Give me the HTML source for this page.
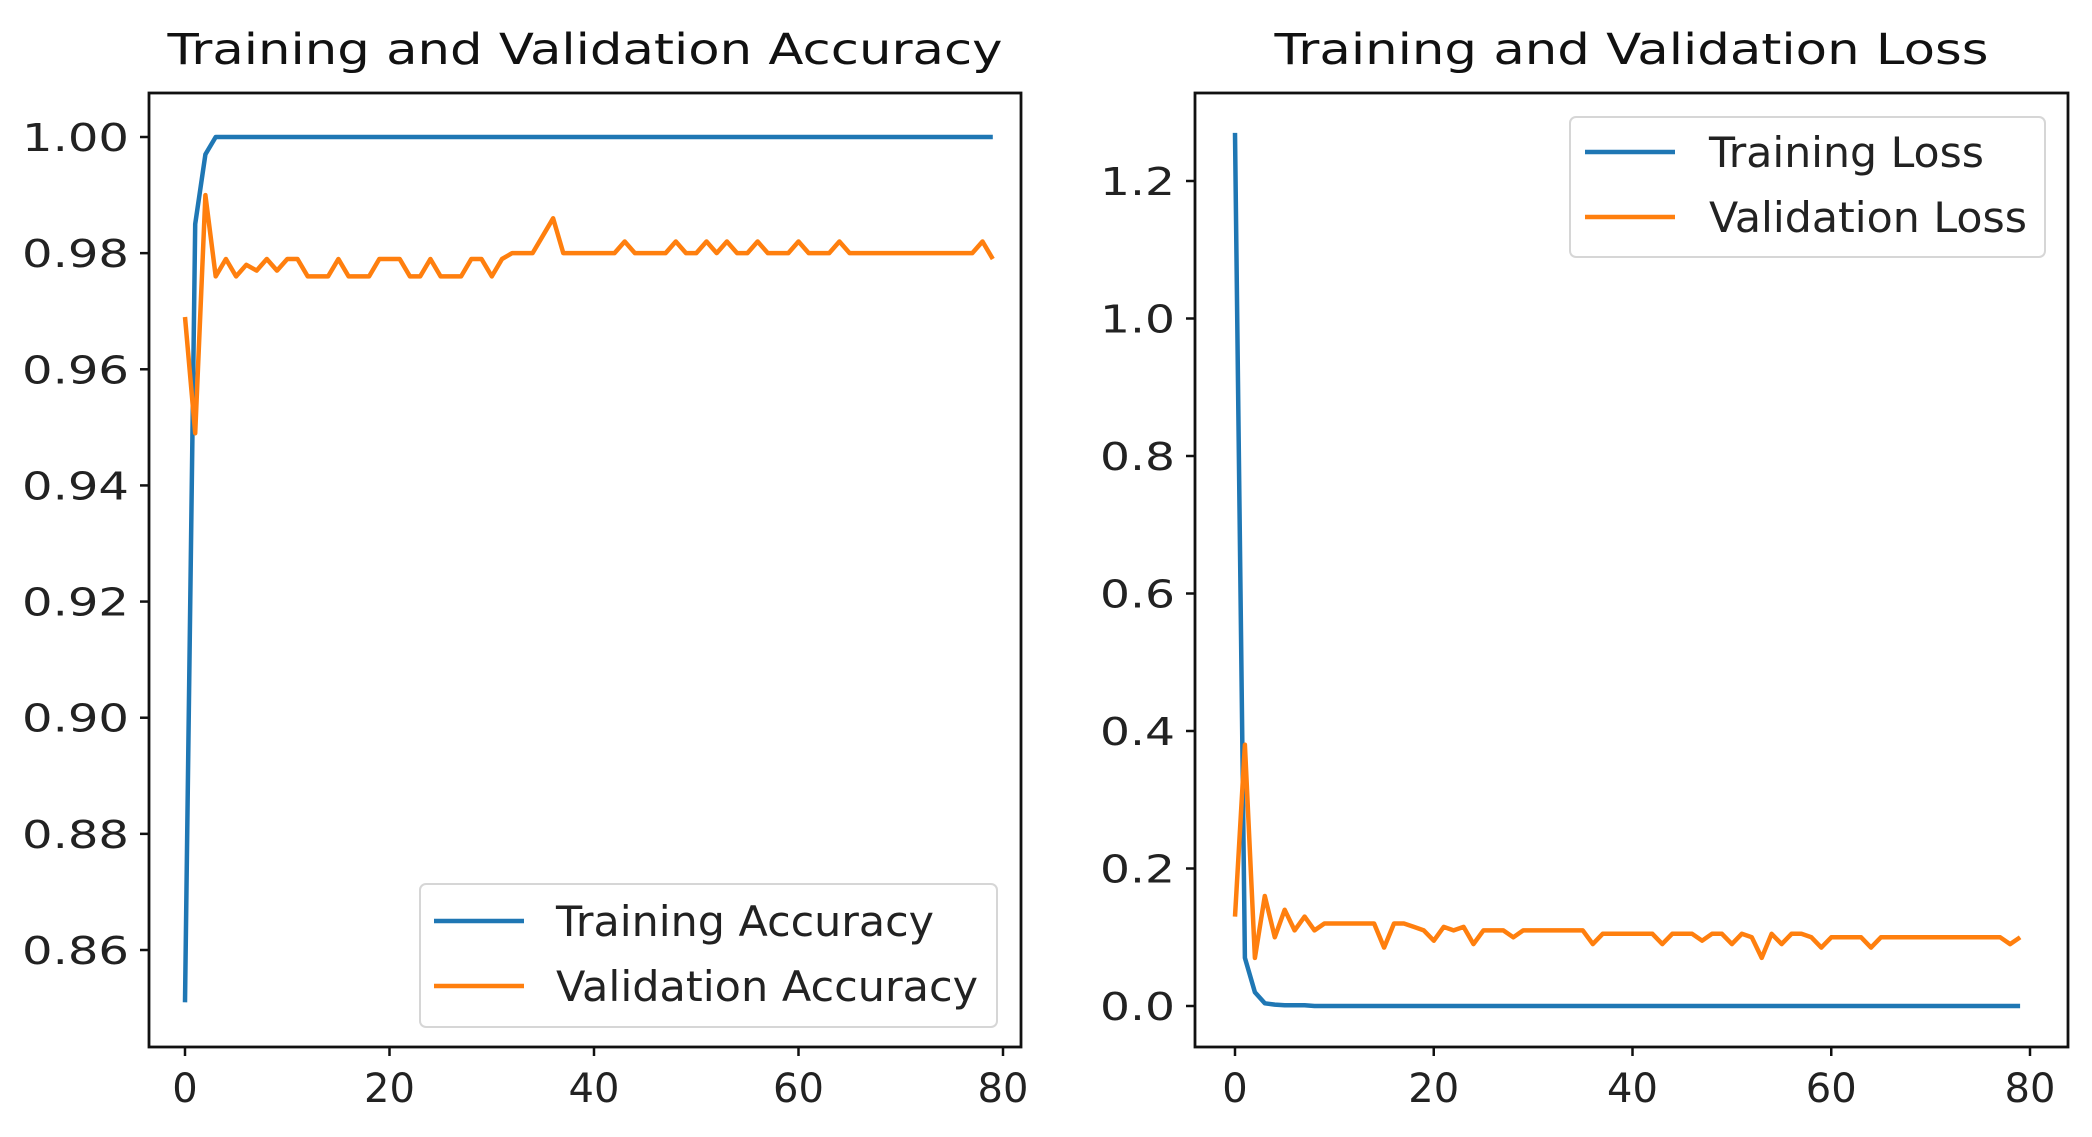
<!DOCTYPE html>
<html><head><meta charset="utf-8"><style>
html,body{margin:0;padding:0;background:#fff;}
svg{display:block;font-family:"DejaVu Sans","Liberation Sans",sans-serif;}
</style></head><body>
<svg id="fig" width="2092" height="1137" viewBox="0 0 2092 1137" xmlns="http://www.w3.org/2000/svg"></svg>
<script>
const epochs = Array.from({length:80},(_,i)=>i);
const trainAcc = [0.851,0.985,0.997,1,1,1,1,1,1,1,1,1,1,1,1,1,1,1,1,1,1,1,1,1,1,1,1,1,1,1,1,1,1,1,1,1,1,1,1,1,1,1,1,1,1,1,1,1,1,1,1,1,1,1,1,1,1,1,1,1,1,1,1,1,1,1,1,1,1,1,1,1,1,1,1,1,1,1,1,1];
const valAcc = [0.969,0.949,0.990,0.976,0.979,0.976,0.978,0.977,0.979,0.977,0.979,0.979,0.976,0.976,0.976,0.979,0.976,0.976,0.976,0.979,0.979,0.979,0.976,0.976,0.979,0.976,0.976,0.976,0.979,0.979,0.976,0.979,0.980,0.980,0.980,0.983,0.986,0.980,0.980,0.980,0.980,0.980,0.980,0.982,0.980,0.980,0.980,0.980,0.982,0.980,0.980,0.982,0.980,0.982,0.980,0.980,0.982,0.980,0.980,0.980,0.982,0.980,0.980,0.980,0.982,0.980,0.980,0.980,0.980,0.980,0.980,0.980,0.980,0.980,0.980,0.980,0.980,0.980,0.982,0.979];
const trainLoss = [1.27,0.07,0.02,0.004,0.002,0.001,0.001,0.001,0,0,0,0,0,0,0,0,0,0,0,0,0,0,0,0,0,0,0,0,0,0,0,0,0,0,0,0,0,0,0,0,0,0,0,0,0,0,0,0,0,0,0,0,0,0,0,0,0,0,0,0,0,0,0,0,0,0,0,0,0,0,0,0,0,0,0,0,0,0,0,0];
const valLoss = [0.13,0.38,0.07,0.16,0.10,0.14,0.11,0.13,0.11,0.12,0.12,0.12,0.12,0.12,0.12,0.085,0.12,0.12,0.115,0.11,0.095,0.115,0.11,0.115,0.09,0.11,0.11,0.11,0.10,0.11,0.11,0.11,0.11,0.11,0.11,0.11,0.09,0.105,0.105,0.105,0.105,0.105,0.105,0.09,0.105,0.105,0.105,0.095,0.105,0.105,0.09,0.105,0.10,0.07,0.105,0.09,0.105,0.105,0.10,0.085,0.10,0.10,0.10,0.10,0.085,0.10,0.10,0.10,0.10,0.10,0.10,0.10,0.10,0.10,0.10,0.10,0.10,0.10,0.09,0.10];
const accTicks = ["0.86","0.88","0.90","0.92","0.94","0.96","0.98","1.00"];
const lossTicks = ["0.0","0.2","0.4","0.6","0.8","1.0","1.2"];
const xTicks = ["0","20","40","60","80"];

const NS="http://www.w3.org/2000/svg";
const svg=document.getElementById('fig');
function mk(tag,attrs,parent){const e=document.createElementNS(NS,tag);for(const k in attrs)e.setAttribute(k,attrs[k]);(parent||svg).appendChild(e);return e;}
const C1="#1f77b4",C2="#ff7f0e";

function panel(cfg){
  const g=mk('g',{});
  
  
  const X=v=>cfg.x0+(v-0)*(cfg.x80-cfg.x0)/80;
  const Y=v=>cfg.yA+(v-cfg.vA)*(cfg.yB-cfg.yA)/(cfg.vB-cfg.vA);
  const t=mk('text',{x:(cfg.L+cfg.R)/2,y:64,'text-anchor':'middle','font-size':43,fill:'#111',textLength:cfg.titleW,lengthAdjust:'spacingAndGlyphs'},g);
  t.textContent=cfg.title;
  
  
  cfg.yticks.forEach(s=>{
    const y=Y(parseFloat(s));
    const tk=mk('line',{x1:cfg.L-9,x2:cfg.L,y1:y,y2:y,stroke:'#111','stroke-width':2.5},g);
    
    
    const tl=mk('text',{x:cfg.L-20,y:y+14,'text-anchor':'end','font-size':38,fill:'#222',textLength:cfg.ytW*s.length/4,lengthAdjust:'spacingAndGlyphs'},g);
    tl.textContent=s;
    
    
  });
  xTicks.forEach(s=>{
    const x=X(parseFloat(s));
    const tk=mk('line',{x1:x,x2:x,y1:cfg.B,y2:cfg.B+9,stroke:'#111','stroke-width':2.5},g);
    
    
    const tl=mk('text',{x:x,y:cfg.B+55,'text-anchor':'middle','font-size':40,fill:'#222'},g);
    tl.textContent=s;
    
    
  });
  cfg.series.forEach(sr=>{
    const d=epochs.map((e,i)=>(i?'L':'M')+X(e).toFixed(1)+' '+Y(sr.v[i]).toFixed(1)).join(' ');
    const p=mk('path',{d:d,fill:'none',stroke:sr.c,'stroke-width':4.5,'stroke-linejoin':'round'},g);
    
    
  });
  const fr=mk('rect',{x:cfg.L,y:cfg.T,width:cfg.R-cfg.L,height:cfg.B-cfg.T,fill:'none',stroke:'#111','stroke-width':2.8},g);
  
  
  const lg=mk('g',{},g);
  
  
  const b=cfg.leg;
  mk('rect',{x:b.x,y:b.y,width:b.w,height:b.h,rx:6,fill:'#fff','fill-opacity':0.85,stroke:'#d6d6d6','stroke-width':2},lg);
  cfg.series.forEach((sr,i)=>{
    const yy=b.y+b.e0+i*b.de;
    const e=mk('g',{},lg);
    
    
    mk('line',{x1:b.hx,x2:b.hx+90,y1:yy,y2:yy,stroke:sr.c,'stroke-width':4.5},e);
    const tx=mk('text',{x:b.tx,y:yy+15,'font-size':42,fill:'#222',textLength:sr.lw,lengthAdjust:'spacingAndGlyphs'},e);
    tx.textContent=sr.label;
  });
}

panel({name:'accuracy-chart',title:'Training and Validation Accuracy',titleW:835,
  L:149,R:1021,T:93,B:1047,x0:185,x80:1003,yA:137,vA:1.00,yB:950,vB:0.86,
  yticks:accTicks,ytW:107,
  series:[{v:trainAcc,c:C1,name:'training-accuracy-line',label:'Training Accuracy',lw:378},
          {v:valAcc,c:C2,name:'validation-accuracy-line',label:'Validation Accuracy',lw:422}],
  leg:{x:420,y:884,w:577,h:143,e0:37,de:65,hx:434,tx:556}});
panel({name:'loss-chart',title:'Training and Validation Loss',titleW:714,
  L:1195,R:2068,T:93,B:1047,x0:1235,x80:2030,yA:1006,vA:0,yB:181,vB:1.2,
  yticks:lossTicks,ytW:100,
  series:[{v:trainLoss,c:C1,name:'training-loss-line',label:'Training Loss',lw:275},
          {v:valLoss,c:C2,name:'validation-loss-line',label:'Validation Loss',lw:318}],
  leg:{x:1570,y:117,w:475,h:140,e0:35,de:65,hx:1585,tx:1709}});
</script>
</body></html>
